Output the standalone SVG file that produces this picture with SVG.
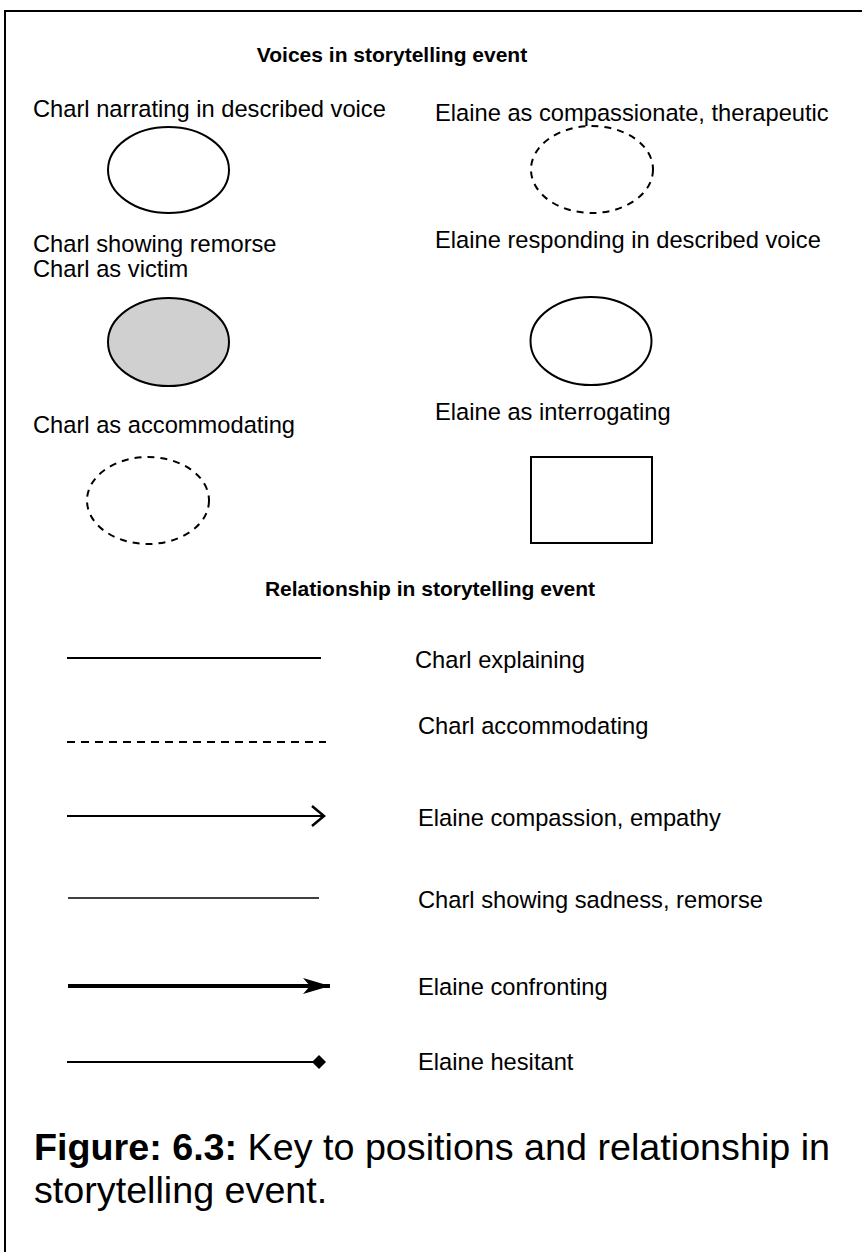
<svg xmlns="http://www.w3.org/2000/svg" width="862" height="1252" viewBox="0 0 862 1252">
<style>
text{font-family:"Liberation Sans",Arial,sans-serif;fill:#000}
.lbl{font-size:23.7px}
.hd{font-size:21px;font-weight:bold}
.cap{font-size:37.7px}
.sh{stroke:#000;stroke-width:2;fill:#fff}
.dsh{stroke:#000;stroke-width:2;fill:none;stroke-dasharray:7 6}
.ln{stroke:#000;fill:none}
</style>
<defs>
<marker id="chev" markerUnits="userSpaceOnUse" markerWidth="16" markerHeight="24" refX="13" refY="11" orient="auto">
<path d="M1,1 L13,11 L1,21" fill="none" stroke="#000" stroke-width="2.5"/>
</marker>
<marker id="bold" markerUnits="userSpaceOnUse" markerWidth="30" markerHeight="20" refX="28" refY="9" orient="auto">
<path d="M1,1 L28,9 L1,17 L8,9 Z" fill="#000"/>
</marker>
<marker id="dia" markerUnits="userSpaceOnUse" markerWidth="18" markerHeight="18" refX="8" refY="8" orient="auto">
<path d="M1,8 L8,1 L15,8 L8,15 Z" fill="#000"/>
</marker>
</defs>
<rect id="frame" x="5" y="11" width="870" height="1260" fill="none" stroke="#000" stroke-width="2"/>
<text class="hd" x="392" y="62" text-anchor="middle">Voices in storytelling event</text>
<g id="charl-narrating">
<text class="lbl" x="33" y="117">Charl narrating in described voice</text>
<ellipse class="sh" cx="168.5" cy="170" rx="60.5" ry="43"/>
</g>
<g id="elaine-compassionate">
<text class="lbl" x="435" y="121">Elaine as compassionate, therapeutic</text>
<ellipse class="dsh" cx="592" cy="169.5" rx="61" ry="43.5"/>
</g>
<g id="charl-remorse">
<text class="lbl" x="33" y="252">Charl showing remorse</text>
<text class="lbl" x="33" y="277">Charl as victim</text>
<ellipse cx="168.5" cy="342" rx="60.5" ry="44" fill="#d0d0d0" stroke="#000" stroke-width="2"/>
</g>
<g id="elaine-responding">
<text class="lbl" x="435" y="248">Elaine responding in described voice</text>
<ellipse class="sh" cx="591" cy="341" rx="60.5" ry="44"/>
</g>
<g id="charl-accommodating">
<text class="lbl" x="33" y="433">Charl as accommodating</text>
<ellipse class="dsh" cx="148" cy="500.5" rx="61" ry="43.5"/>
</g>
<g id="elaine-interrogating">
<text class="lbl" x="435" y="420">Elaine as interrogating</text>
<rect class="sh" x="531" y="457" width="121" height="86"/>
</g>
<text class="hd" x="430" y="596" text-anchor="middle">Relationship in storytelling event</text>
<g id="connectors">
<line class="ln" x1="67" y1="658" x2="321" y2="658" stroke-width="2"/>
<line class="ln" x1="67" y1="742" x2="326" y2="742" stroke-width="2" stroke-dasharray="8 6"/>
<line class="ln" x1="67" y1="816" x2="324" y2="816" stroke-width="2" stroke="#333" marker-end="url(#chev)"/>
<line class="ln" x1="68" y1="898" x2="319" y2="898" stroke-width="1.5" stroke="#333"/>
<line class="ln" x1="68" y1="986" x2="330" y2="986" stroke-width="4" marker-end="url(#bold)"/>
<line class="ln" x1="67" y1="1062" x2="319" y2="1062" stroke-width="2" marker-end="url(#dia)"/>
</g>
<g id="relationship-labels">
<text class="lbl" x="415" y="668">Charl explaining</text>
<text class="lbl" x="418" y="734">Charl accommodating</text>
<text class="lbl" x="418" y="826">Elaine compassion, empathy</text>
<text class="lbl" x="418" y="908">Charl showing sadness, remorse</text>
<text class="lbl" x="418" y="995">Elaine confronting</text>
<text class="lbl" x="418" y="1070">Elaine hesitant</text>
</g>
<g id="caption">
<text class="cap" x="34" y="1160"><tspan font-weight="bold">Figure: 6.3:</tspan> Key to positions and relationship in</text>
<text class="cap" x="34" y="1203">storytelling event.</text>
</g>
</svg>
